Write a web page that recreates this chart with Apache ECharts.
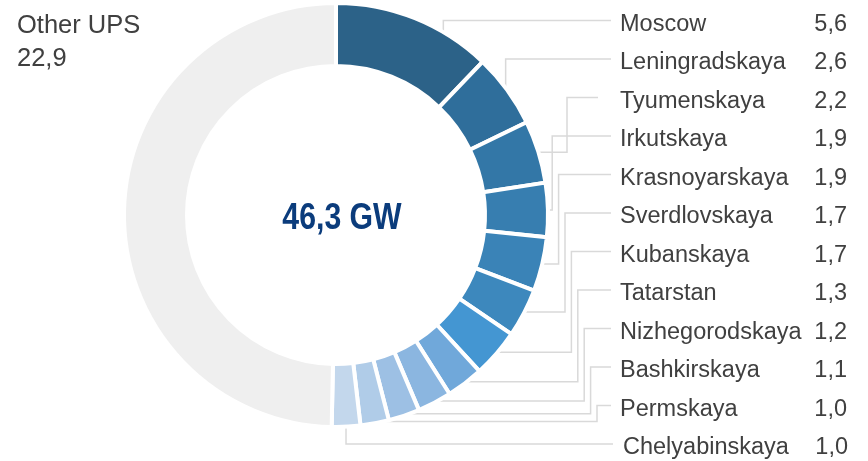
<!DOCTYPE html>
<html><head><meta charset="utf-8">
<script src="https://cdn.jsdelivr.net/npm/echarts@6/dist/echarts.min.js"></script>
<style>html,body{margin:0;padding:0;background:#fff}#c{width:868px;height:461px}</style>
</head><body><div id="c"></div>
<script>
// ---- data ----
const regions = ['Moscow', 'Leningradskaya', 'Tyumenskaya', 'Irkutskaya', 'Krasnoyarskaya', 'Sverdlovskaya',
  'Kubanskaya', 'Tatarstan', 'Nizhegorodskaya', 'Bashkirskaya', 'Permskaya', 'Chelyabinskaya'];
const regionValues = [5.6, 2.6, 2.2, 1.9, 1.9, 1.7, 1.7, 1.3, 1.2, 1.1, 1.0, 1.0];
const otherName = 'Other UPS';
const otherValue = 22.9;
const totalLabel = '46,3 GW';

// ---- style ----
const palette = ['#2C6288', '#2F6E9B', '#3377A7', '#377EB0', '#3A83B7', '#3D88BD',
  '#4496D2', '#70A8DA', '#8BB6E0', '#9DC0E4', '#B0CCE8', '#C3D7EC'];
const otherColor = '#EFEFEF';
const textColor = '#404040';
const lineColor = '#D9D9D9';
const FONT = 'Liberation Sans, Arial, sans-serif';

const CX = 336, CY = 215, R_IN = 149, R_OUT = 212, R_ANCHOR = 210;
const ROW0 = 24.5, ROW_STEP = 38.5, LABEL_X = 620, LINE_END = 611;

const total = regionValues.reduce((a, b) => a + b, 0) + otherValue;
const midAngles = [];
{ let acc = 0; regionValues.forEach(v => { midAngles.push((acc + v / 2) / total * 360); acc += v; }); }

function elbowX(i) {
  if (i <= 1 || i >= regions.length - 1) return null;
  if (i === 2) return 567;
  return 533 + 6.4 * i;
}
const fmt = v => v.toFixed(1).replace('.', ',');
const rowY = i => ROW0 + ROW_STEP * i;

function leaderPoints(i) {
  const lineY = rowY(i) - 4;
  let a = midAngles[i] * Math.PI / 180;
  let ax = CX + R_ANCHOR * Math.sin(a), ay = CY - R_ANCHOR * Math.cos(a);
  if (midAngles[i] < 90 && ay < lineY + 12) {
    ay = lineY + 14;
    a = Math.acos((CY - ay) / R_ANCHOR);
    ax = CX + R_ANCHOR * Math.sin(a);
  }
  const e = elbowX(i);
  const end = i === regions.length - 1 ? LINE_END + 2 : (i === 2 ? LINE_END - 13 : LINE_END);
  if (e == null || e <= ax) return [[ax, ay], [ax, lineY], [end, lineY]];
  return [[ax, ay], [e, ay], [e, lineY], [end, lineY]];
}

const data = regions.map((n, i) => ({ name: n, value: regionValues[i], itemStyle: { color: palette[i] } }));
data.push({ name: otherName, value: otherValue, itemStyle: { color: otherColor } });

const graphics = regions.map((n, i) => ({
  type: 'polyline', z: 1, silent: true,
  shape: { points: leaderPoints(i) },
  style: { stroke: lineColor, lineWidth: 1.5, fill: null }
}));
graphics.push({
  type: 'text', x: 342, y: 219, z: 10, scaleX: 0.84, scaleY: 1,
  style: { text: totalLabel, fill: '#0B3C7C', font: 'bold 36px "Liberation Sans", Arial, sans-serif',
    textAlign: 'center', textVerticalAlign: 'middle' }
});

const chart = echarts.init(document.getElementById('c'), null, { renderer: 'canvas' });
chart.setOption({
  animation: false,
  backgroundColor: '#fff',
  graphic: graphics,
  series: [{
    type: 'pie',
    z: 2,
    center: [CX, CY],
    radius: [R_IN, R_OUT],
    startAngle: 90,
    clockwise: true,
    avoidLabelOverlap: false,
    itemStyle: { borderColor: '#fff', borderWidth: 4 },
    emphasis: { disabled: true },
    label: {
      show: true,
      position: 'outside',
      formatter: p => {
        if (p.dataIndex >= regions.length) return `{o|${p.name}}\n{o|${fmt(p.value)}}`;
        return p.dataIndex === regions.length - 1
          ? `{n2|${p.name}}{v|${fmt(p.value)}}`
          : `{n|${p.name}}{v|${fmt(p.value)}}`;
      },
      rich: {
        n: { width: 187, fontSize: 23.5, color: textColor, fontFamily: FONT },
        n2: { width: 185, fontSize: 23.5, color: textColor, fontFamily: FONT },
        v: { width: 40, align: 'right', fontSize: 23.5, color: textColor, fontFamily: FONT },
        o: { fontSize: 25.5, lineHeight: 33, color: textColor, fontFamily: FONT }
      }
    },
    labelLine: { show: false },
    labelLayout: function (p) {
      const i = p.dataIndex;
      if (i >= regions.length) {
        return { x: 17, y: 9, align: 'left', verticalAlign: 'top' };
      }
      return { x: i === regions.length - 1 ? LABEL_X + 3 : LABEL_X, y: rowY(i), align: 'left', verticalAlign: 'middle' };
    },
    data: data
  }]
});
</script>
</body></html>
